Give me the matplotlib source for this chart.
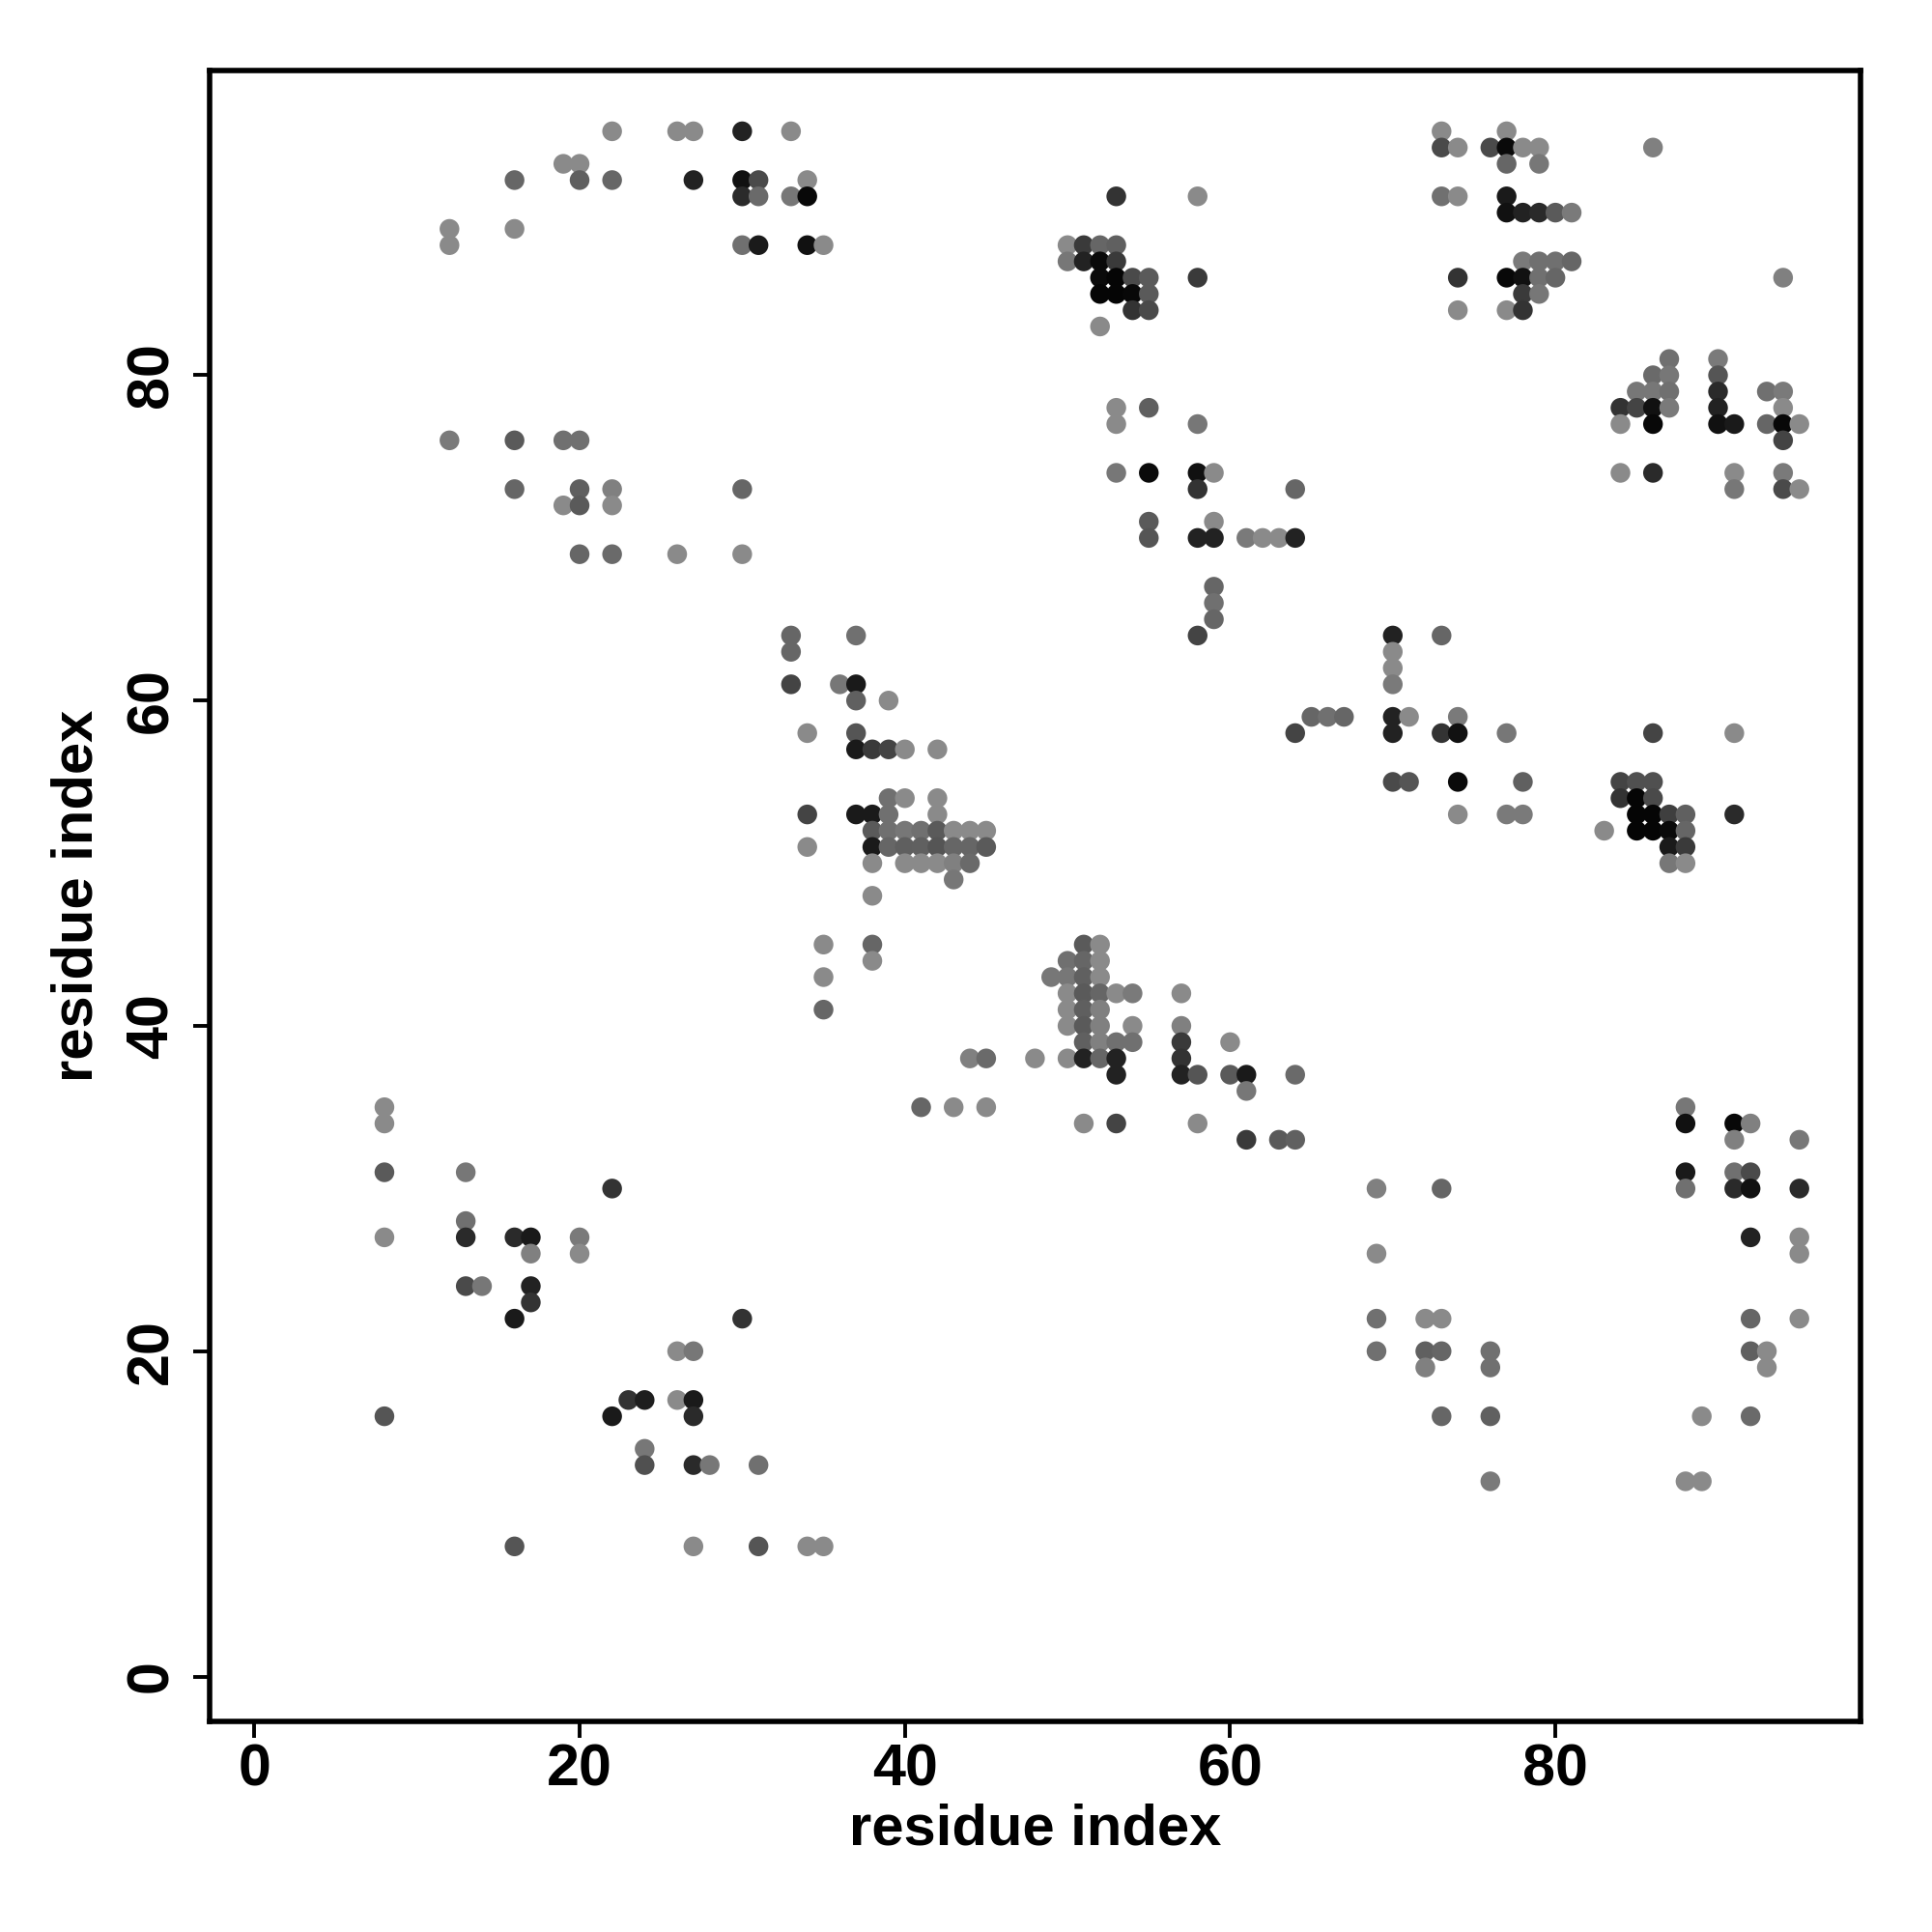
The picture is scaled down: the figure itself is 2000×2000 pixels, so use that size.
"""Residue contact map: predicted contacts shaded by confidence."""

import matplotlib
matplotlib.use('Agg')
import matplotlib.pyplot as plt
import numpy as np

matplotlib.rcParams['font.family'] = ['Liberation Sans', 'DejaVu Sans']
matplotlib.rcParams['font.weight'] = 'bold'

# --- Contacts: residue i, residue j, gray level (0=black, 255=white) ---
res_i = [
    22, 26, 27, 30, 19, 20, 16, 20, 22, 27, 30, 30, 12, 12, 16, 30,
    12, 16, 19, 20, 16, 20, 22, 19, 20, 22, 30, 20, 22, 26, 30,
    33, 31, 31, 34, 33, 34, 31, 34, 35,
    50, 51, 52, 50, 51, 52, 52, 52, 52,
    73, 73, 74, 53, 58, 73, 74,
    53, 53, 53, 54, 55, 53, 54, 55, 54, 55, 58, 74, 74,
    53, 53, 55, 58, 53, 55, 58, 59, 58, 64,
    55, 55, 59, 58, 59, 61, 62, 63, 64, 59,
    77, 76, 77, 78, 79, 77, 79, 86,
    77, 77, 78, 79, 80, 81, 78, 79, 80, 81, 77, 78, 79, 80, 78, 79, 77, 78, 94,
    87, 86, 87, 85, 86, 87, 84, 85, 86, 87, 84, 86,
    90, 90, 90, 90, 90, 91, 93, 94, 94, 93, 94, 95, 94,
    84, 86, 91, 91, 94, 94, 95,
    33, 33, 37, 33, 36, 37, 37, 39, 34, 37,
    37, 38, 39, 40, 42, 39, 40, 42, 34, 37, 38, 39, 42,
    38, 39, 40, 41, 42, 43, 44, 45,
    38, 39, 40, 41, 42, 43, 44, 45, 34,
    38, 40, 41, 42, 43, 44, 43, 38,
    35, 38, 38, 35, 35,
    51, 52, 50, 51, 52, 49, 50, 51, 52, 50, 51, 52, 50, 51, 52, 50, 51, 52, 51, 52,
    44, 45, 48, 50, 51, 52,
    59, 59, 58, 70, 73, 70, 70, 70,
    65, 66, 67, 64, 70, 71, 70, 74, 73, 74, 70, 71, 74, 74,
    53, 54, 57, 54, 57, 53, 54, 57, 60, 53, 57, 53, 57, 58, 60, 61, 64,
    77, 86, 91, 78, 77, 78, 84, 85, 86, 84, 85, 86,
    85, 86, 87, 88, 83, 85, 86, 87, 88, 87, 88, 87, 88, 91,
    8, 8, 8, 13, 22, 13, 13, 8, 16, 17, 17, 20, 20,
    13, 14, 17, 17, 16, 30, 26, 27, 23, 24, 26, 27,
    8, 22, 27, 24, 24, 27, 28, 16, 27,
    41, 43, 45, 51, 31, 31, 34, 35,
    61, 53, 58, 61, 63, 64, 69, 73, 69, 69, 72, 73, 69, 72, 73, 72, 73,
    88, 88, 91, 92, 91, 95, 88, 88, 91, 92, 91, 92, 95,
    92, 95, 95, 92, 95, 76, 76, 92, 93, 93, 76, 89, 92, 76, 88, 89,
]
res_j = [
    95, 95, 95, 95, 93, 93, 92, 92, 92, 92, 92, 91, 89, 88, 89, 88,
    76, 76, 76, 76, 73, 73, 73, 72, 72, 72, 73, 69, 69, 69, 69,
    95, 92, 91, 92, 91, 91, 88, 88, 88,
    88, 88, 88, 87, 87, 87, 86, 85, 83,
    95, 94, 94, 91, 91, 91, 91,
    88, 87, 86, 86, 86, 85, 85, 85, 84, 84, 86, 86, 84,
    78, 77, 78, 77, 74, 74, 74, 74, 73, 73,
    71, 70, 71, 70, 70, 70, 70, 70, 70, 67,
    95, 94, 94, 94, 94, 93, 93, 94,
    91, 90, 90, 90, 90, 90, 87, 87, 87, 87, 86, 86, 86, 86, 85, 85, 84, 84, 86,
    81, 80, 80, 79, 79, 79, 78, 78, 78, 78, 77, 77,
    81, 80, 79, 78, 77, 77, 79, 79, 78, 77, 77, 77, 76,
    74, 74, 74, 73, 74, 73, 73,
    64, 63, 64, 61, 61, 61, 60, 60, 58, 58,
    57, 57, 57, 57, 57, 54, 54, 54, 53, 53, 53, 53, 53,
    52, 52, 52, 52, 52, 52, 52, 52,
    51, 51, 51, 51, 51, 51, 51, 51, 51,
    50, 50, 50, 50, 50, 50, 49, 48,
    45, 45, 44, 43, 41,
    45, 45, 44, 44, 44, 43, 43, 43, 43, 42, 42, 42, 41, 41, 41, 40, 40, 40, 39, 39,
    38, 38, 38, 38, 38, 38,
    66, 65, 64, 64, 64, 63, 62, 61,
    59, 59, 59, 58, 59, 59, 58, 59, 58, 58, 55, 55, 55, 53,
    42, 42, 42, 40, 40, 39, 39, 39, 39, 38, 38, 37, 37, 37, 37, 37, 37,
    58, 58, 58, 55, 53, 53, 55, 55, 55, 54, 54, 54,
    53, 53, 53, 53, 52, 52, 52, 52, 52, 51, 51, 50, 50, 53,
    35, 34, 31, 31, 30, 28, 27, 27, 27, 27, 26, 27, 26,
    24, 24, 24, 23, 22, 22, 20, 20, 17, 17, 17, 17,
    16, 16, 16, 14, 13, 13, 13, 8, 8,
    35, 35, 35, 34, 13, 8, 8, 8,
    36, 34, 34, 33, 33, 33, 30, 30, 26, 22, 22, 22, 20, 20, 20, 19, 16,
    35, 34, 34, 34, 33, 33, 31, 30, 31, 31, 30, 30, 30,
    27, 27, 26, 22, 22, 20, 19, 20, 20, 19, 16, 16, 16, 12, 12, 12,
]
gray_level = [
    138, 138, 138, 34, 138, 138, 102, 95, 102, 34, 17, 42, 138, 138, 138, 112,
    122, 90, 112, 112, 102, 95, 128, 138, 90, 138, 102, 102, 106, 138, 138,
    138, 74, 106, 138, 119, 8, 26, 17, 138,
    138, 58, 102, 119, 34, 10, 10, 5, 138,
    138, 74, 138, 51, 138, 112, 138,
    96, 58, 5, 74, 90, 5, 8, 90, 51, 74, 58, 51, 138,
    138, 138, 95, 119, 119, 10, 17, 138, 51, 102,
    90, 85, 138, 34, 34, 122, 138, 138, 34, 102,
    138, 74, 10, 138, 138, 102, 119, 128,
    26, 17, 34, 42, 90, 122, 122, 112, 112, 102, 8, 17, 112, 102, 58, 119, 138, 51, 128,
    112, 106, 119, 119, 119, 112, 51, 68, 17, 122, 138, 8,
    122, 85, 42, 34, 17, 26, 112, 122, 138, 102, 8, 138, 68,
    138, 42, 138, 119, 122, 74, 138,
    102, 102, 112, 68, 119, 26, 96, 138, 138, 85,
    26, 58, 68, 138, 138, 112, 138, 138, 68, 26, 26, 112, 138,
    90, 112, 119, 112, 90, 138, 138, 138,
    26, 102, 95, 96, 85, 102, 102, 90, 138,
    138, 138, 138, 138, 128, 106, 119, 138,
    138, 102, 138, 138, 102,
    90, 138, 112, 102, 138, 119, 119, 96, 138, 138, 90, 102, 138, 95, 128, 138, 90, 128, 96, 128,
    128, 106, 138, 138, 34, 102,
    112, 102, 68, 34, 102, 138, 138, 122,
    102, 112, 102, 68, 34, 138, 34, 122, 51, 17, 74, 85, 10, 138,
    138, 122, 138, 138, 128, 112, 112, 58, 138, 34, 51, 34, 34, 85, 90, 26, 106,
    119, 68, 138, 96, 122, 122, 68, 80, 80, 51, 5, 74,
    5, 5, 63, 96, 138, 5, 5, 10, 102, 26, 58, 119, 138, 42,
    138, 138, 90, 119, 51, 112, 42, 138, 42, 26, 128, 122, 138,
    74, 119, 34, 51, 26, 51, 138, 119, 51, 30, 138, 26,
    85, 26, 42, 119, 80, 42, 119, 85, 138,
    102, 138, 138, 138, 112, 85, 138, 138,
    119, 68, 138, 58, 90, 96, 128, 102, 138, 112, 138, 138, 112, 96, 102, 128, 102,
    119, 17, 8, 128, 128, 119, 26, 112, 112, 74, 42, 17, 42,
    34, 138, 138, 102, 138, 112, 112, 96, 138, 138, 96, 138, 106, 122, 138, 138,
]

assert len(res_i) == len(res_j) == len(gray_level)

colors = [(g / 255, g / 255, g / 255) for g in gray_level]

fig = plt.figure(figsize=(10, 10), dpi=200)
ax = fig.add_axes([0.1084, 0.109, 0.8546, 0.8547])

ax.scatter(res_i, res_j, s=54, c=colors, linewidths=0, zorder=2)

ax.set_xlim(-2.76, 98.76)
ax.set_ylim(-2.76, 98.76)
ax.set_xticks([0, 20, 40, 60, 80])
ax.set_yticks([0, 20, 40, 60, 80])

for side in ['top', 'bottom', 'left', 'right']:
    ax.spines[side].set_linewidth(2.0)

ax.tick_params(axis='both', direction='out', length=6, width=1.4, labelsize=22, pad=2)
ax.tick_params(axis='y', pad=5)
for lab in ax.get_yticklabels():
    lab.set_rotation(90)
    lab.set_va('center')
for lab in ax.get_xticklabels() + ax.get_yticklabels():
    lab.set_fontweight('bold')

ax.set_xlabel('residue index', fontsize=21.5, fontweight='bold', labelpad=2)
ax.set_ylabel('residue index', fontsize=21.5, fontweight='bold', labelpad=8)

plt.savefig('out.png', dpi=200)
print("Saved: out.png")
